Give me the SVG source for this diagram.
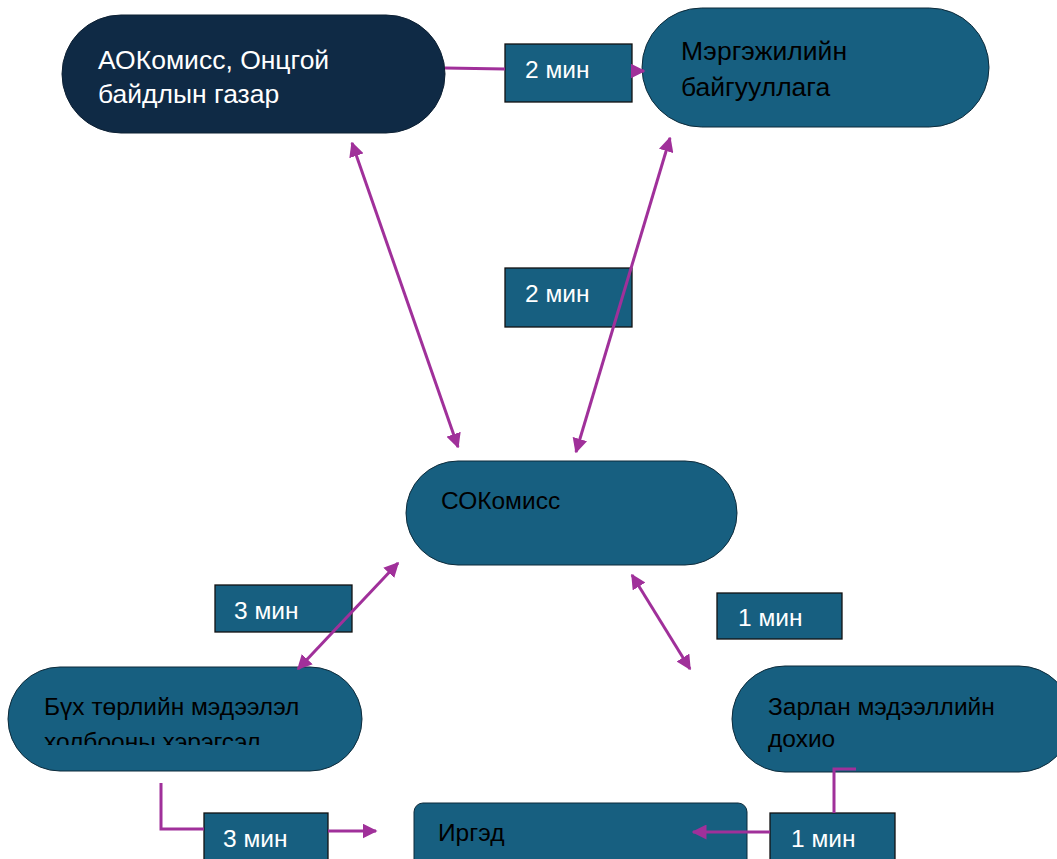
<svg xmlns="http://www.w3.org/2000/svg" width="1057" height="859" viewBox="0 0 1057 859">
<style>
.node{fill:#175f80;stroke:#0d2b3b;stroke-width:1}
.dark{fill:#0f2a45;stroke:#0d2033;stroke-width:1}
.lbl{fill:#175f80;stroke:#111;stroke-width:1.3}
.t{font-family:"Liberation Sans",Arial,sans-serif;font-size:24.5px}
.big{font-size:26.5px}
.w{fill:#ffffff}
.b{fill:#000000}
.c{fill:none;stroke:#a0309a;stroke-width:3}
</style>
<defs>
<marker id="ah" viewBox="0 0 10 10" refX="9" refY="5" markerWidth="5" markerHeight="5" orient="auto-start-reverse" markerUnits="strokeWidth">
<path d="M0,0 L10,5 L0,10 z" fill="#a0309a"/>
</marker>
<clipPath id="clipB"><rect x="0" y="660" width="400" height="85"/></clipPath>
</defs>
<rect width="1057" height="859" fill="#ffffff"/>

<g id="node-aokomiss">
<rect class="dark" x="62" y="15" width="383" height="118" rx="59"/>
<text class="t big w" x="98" y="69">АОКомисс, Онцгой</text>
<text class="t big w" x="98" y="103">байдлын газар</text>
</g>

<g id="node-mergejil">
<rect class="node" x="642" y="8" width="347" height="119" rx="59.5"/>
<text class="t big b" x="681" y="60">Мэргэжилийн</text>
<text class="t big b" x="681" y="96">байгууллага</text>
</g>

<g id="node-sokomiss">
<rect class="node" x="406" y="461" width="331" height="104" rx="52"/>
<text class="t b" x="441" y="509">СОКомисс</text>
</g>

<g id="node-bukh">
<rect class="node" x="8" y="667" width="354" height="104" rx="52"/>
<text class="t b" x="44" y="715">Бүх төрлийн мэдээлэл</text>
<text class="t b" x="44" y="750" clip-path="url(#clipB)">холбооны хэрэгсэл</text>
</g>

<g id="node-zarlan">
<rect class="node" x="732" y="666" width="340" height="106" rx="53"/>
<text class="t b" x="768" y="715">Зарлан мэдээллийн</text>
<text class="t b" x="768" y="747">дохио</text>
</g>

<g id="node-irged">
<rect class="node" x="414" y="803" width="333" height="70" rx="9"/>
<text class="t b" x="438" y="841">Иргэд</text>
</g>

<g id="label-2min-top">
<rect class="lbl" x="505" y="44" width="127" height="58"/>
<text class="t w" x="525" y="78">2 мин</text>
</g>
<g id="label-2min-mid">
<rect class="lbl" x="505" y="268" width="127" height="59"/>
<text class="t w" x="525" y="302">2 мин</text>
</g>
<g id="label-3min-mid">
<rect class="lbl" x="215" y="585" width="137" height="47"/>
<text class="t w" x="234" y="619">3 мин</text>
</g>
<g id="label-1min-mid">
<rect class="lbl" x="717" y="593" width="125" height="46"/>
<text class="t w" x="738" y="626">1 мин</text>
</g>
<g id="label-3min-bot">
<rect class="lbl" x="204" y="813" width="124" height="60"/>
<text class="t w" x="223" y="847">3 мин</text>
</g>
<g id="label-1min-bot">
<rect class="lbl" x="770" y="813" width="125" height="60"/>
<text class="t w" x="791" y="847">1 мин</text>
</g>

<g id="connectors">
<polyline class="c" points="445,68 505,69"/>
<line class="c" x1="632" y1="71" x2="644" y2="71" marker-end="url(#ah)"/>
<line class="c" x1="352" y1="143" x2="458" y2="447" marker-start="url(#ah)" marker-end="url(#ah)"/>
<line class="c" x1="670" y1="138" x2="576" y2="452" marker-start="url(#ah)" marker-end="url(#ah)"/>
<line class="c" x1="398" y1="563" x2="298" y2="669" marker-start="url(#ah)" marker-end="url(#ah)"/>
<line class="c" x1="632" y1="575" x2="690" y2="669" marker-start="url(#ah)" marker-end="url(#ah)"/>
<polyline class="c" points="161,783 161,829 204,829"/>
<line class="c" x1="328" y1="831" x2="376" y2="831" marker-end="url(#ah)"/>
<polyline class="c" points="856,769 834,769 834,813"/>
<line class="c" x1="770" y1="832" x2="693" y2="832" marker-end="url(#ah)"/>
</g>
</svg>
